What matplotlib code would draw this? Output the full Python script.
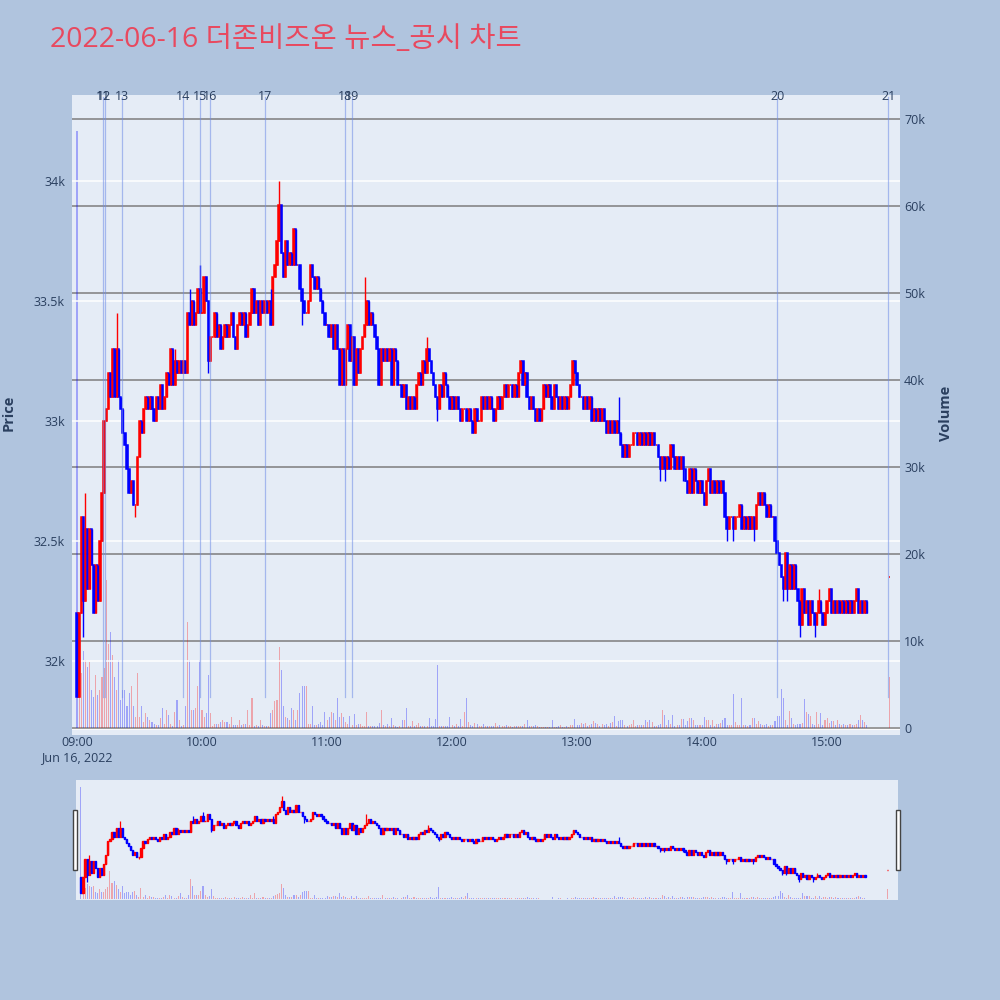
import numpy as np
import matplotlib.pyplot as plt
from matplotlib.patches import Rectangle
from matplotlib.ticker import FuncFormatter

plt.rcParams['font.family'] = ['Open Sans', 'Noto Sans CJK KR', 'DejaVu Sans']

title = '2022-06-16 더존비즈온 뉴스_공시 차트'

# 1-minute closes from 09:00 (index 0) to 15:19, open of each bar = previous close
first_open = 32200
closes = [
    31850, 32200, 32600, 32250, 32550, 32300, 32550, 32400, 32200, 32400,
    32250, 32500, 32700, 33000, 33050, 33200, 33100, 33300, 33100, 33300,
    33100, 33050, 32950, 32900, 32800, 32700, 32750, 32650, 32650, 32850,
    33000, 32950, 33050, 33100, 33050, 33100, 33050, 33000, 33100, 33050,
    33150, 33050, 33100, 33200, 33150, 33300, 33150, 33250, 33200, 33250,
    33200, 33250, 33200, 33450, 33400, 33500, 33400, 33450, 33550, 33450,
    33450, 33600, 33500, 33250, 33350, 33350, 33450, 33350, 33400, 33300,
    33350, 33400, 33350, 33400, 33450, 33350, 33300, 33400, 33450, 33400,
    33450, 33350, 33400, 33450, 33550, 33450, 33500, 33400, 33500, 33450,
    33500, 33450, 33500, 33400, 33600, 33650, 33750, 33900, 33700, 33600,
    33750, 33650, 33700, 33650, 33800, 33650, 33650, 33550, 33500, 33450,
    33450, 33500, 33650, 33600, 33550, 33600, 33550, 33500, 33450, 33400,
    33400, 33350, 33400, 33300, 33400, 33300, 33150, 33300, 33150, 33300,
    33400, 33250, 33350, 33150, 33300, 33200, 33300, 33350, 33400, 33500,
    33400, 33450, 33400, 33350, 33300, 33150, 33300, 33250, 33300, 33250,
    33300, 33150, 33300, 33250, 33150, 33150, 33100, 33150, 33050, 33100,
    33050, 33100, 33050, 33150, 33200, 33150, 33250, 33200, 33300, 33250,
    33200, 33150, 33100, 33050, 33150, 33100, 33200, 33150, 33100, 33050,
    33100, 33050, 33100, 33050, 33000, 33050, 33050, 33000, 33050, 33000,
    32950, 33050, 33000, 33000, 33100, 33050, 33100, 33050, 33100, 33050,
    33000, 33050, 33100, 33050, 33100, 33150, 33100, 33150, 33150, 33100,
    33150, 33100, 33200, 33250, 33150, 33200, 33100, 33050, 33100, 33050,
    33000, 33050, 33000, 33050, 33150, 33100, 33150, 33100, 33050, 33150,
    33100, 33050, 33100, 33050, 33100, 33050, 33100, 33150, 33250, 33200,
    33150, 33100, 33100, 33050, 33100, 33050, 33100, 33000, 33050, 33000,
    33050, 33000, 33050, 33000, 32950, 33000, 32950, 33000, 32950, 33000,
    32950, 32900, 32850, 32900, 32850, 32900, 32900, 32950, 32950, 32900,
    32950, 32900, 32950, 32900, 32950, 32900, 32950, 32900, 32900, 32850,
    32800, 32850, 32800, 32850, 32800, 32900, 32850, 32800, 32850, 32800,
    32850, 32800, 32750, 32700, 32800, 32700, 32800, 32750, 32700, 32750,
    32700, 32650, 32750, 32800, 32700, 32750, 32700, 32750, 32700, 32750,
    32700, 32600, 32550, 32600, 32600, 32550, 32600, 32600, 32650, 32550,
    32600, 32550, 32600, 32550, 32600, 32550, 32650, 32700, 32650, 32700,
    32650, 32600, 32650, 32600, 32600, 32500, 32450, 32400, 32350, 32300,
    32450, 32300, 32400, 32300, 32400, 32300, 32250, 32150, 32300, 32200,
    32250, 32150, 32250, 32200, 32150, 32200, 32250, 32200, 32150, 32200,
    32250, 32300, 32200, 32250, 32200, 32250, 32200, 32250, 32200, 32250,
    32200, 32250, 32200, 32250, 32300, 32200, 32250, 32200, 32250, 32200,
]
# volume per minute, thousands of shares
volumes = [
    68.6, 9.0, 6.3, 8.8, 7.8, 7.0, 7.6, 4.4, 3.6, 6.1,
    3.8, 4.4, 5.9, 6.9, 17.0, 9.7, 11.0, 8.4, 5.9, 4.4,
    7.8, 3.2, 4.4, 4.4, 2.5, 4.0, 4.8, 2.5, 1.3, 6.3,
    1.3, 2.5, 0.7, 1.7, 1.3, 0.9, 0.7, 0.5, 0.4, 0.4,
    1.1, 2.3, 0.5, 2.1, 1.5, 0.5, 0.2, 1.9, 3.2, 0.9,
    0.2, 0.4, 2.5, 12.2, 7.8, 2.1, 2.1, 2.3, 4.8, 7.8,
    2.1, 1.3, 1.7, 6.1, 1.7, 0.2, 0.5, 0.5, 0.5, 0.7,
    0.9, 0.7, 0.7, 0.5, 1.3, 0.4, 0.4, 0.4, 0.9, 0.4,
    0.5, 0.5, 2.1, 0.4, 3.5, 0.2, 0.4, 0.2, 0.9, 0.4,
    0.2, 0.2, 0.2, 1.7, 2.1, 3.1, 3.2, 9.3, 6.7, 2.5,
    1.3, 1.1, 0.9, 2.3, 2.1, 0.9, 2.1, 4.0, 4.8, 4.8,
    4.8, 0.5, 0.5, 2.5, 0.4, 0.4, 0.5, 0.7, 0.4, 1.8,
    0.9, 1.3, 1.9, 1.7, 0.9, 3.4, 1.3, 1.7, 1.3, 0.7,
    0.5, 1.4, 0.3, 1.6, 0.3, 0.5, 0.5, 0.2, 0.2, 1.8,
    0.2, 0.2, 0.2, 0.2, 0.2, 0.6, 2.1, 0.3, 0.2, 0.5,
    0.2, 1.2, 0.4, 0.2, 0.1, 0.2, 0.9, 0.9, 2.3, 0.2,
    0.2, 0.8, 0.2, 0.3, 0.6, 0.2, 0.2, 0.2, 0.2, 1.1,
    0.2, 0.2, 1.0, 7.2, 0.2, 0.2, 0.2, 0.2, 0.2, 1.3,
    0.3, 0.2, 0.5, 0.2, 1.0, 0.2, 1.8, 3.5, 0.7, 0.3,
    0.2, 0.6, 0.5, 0.2, 0.2, 0.5, 0.2, 0.2, 0.2, 0.2,
    0.2, 0.6, 0.2, 0.3, 0.2, 0.2, 0.3, 0.2, 0.2, 0.1,
    0.2, 0.2, 0.2, 0.2, 0.2, 0.5, 0.9, 0.2, 0.2, 0.2,
    0.4, 0.2, 0.1, 0.1, 0.1, 0.1, 0.1, 0.1, 0.9, 0.1,
    0.1, 0.2, 0.4, 0.1, 0.1, 0.2, 0.1, 0.3, 0.3, 1.0,
    0.3, 0.3, 0.6, 0.5, 0.6, 0.2, 0.3, 0.5, 0.8, 0.6,
    0.5, 0.2, 0.5, 0.3, 0.5, 0.2, 0.6, 0.7, 1.4, 0.2,
    0.8, 0.9, 0.9, 0.4, 0.2, 0.3, 0.5, 0.9, 0.2, 0.4,
    0.3, 0.3, 0.4, 0.9, 0.7, 0.9, 0.7, 0.2, 0.2, 0.4,
    0.5, 2.1, 1.5, 0.4, 0.9, 0.5, 1.5, 0.2, 0.3, 0.3,
    1.0, 1.0, 0.4, 0.8, 1.2, 1.1, 0.9, 0.3, 0.3, 0.3,
    0.3, 1.3, 0.9, 0.9, 0.3, 0.9, 0.2, 0.5, 0.5, 0.6,
    0.9, 1.2, 0.3, 0.3, 0.3, 3.9, 0.7, 0.4, 0.3, 3.5,
    0.3, 0.3, 0.2, 0.3, 1.2, 1.2, 0.5, 0.8, 0.5, 0.3,
    0.3, 0.5, 0.2, 0.3, 0.4, 0.8, 1.4, 1.4, 4.5, 3.5,
    0.9, 0.3, 2.0, 1.1, 0.5, 0.3, 0.5, 0.5, 0.6, 3.3,
    1.9, 1.6, 1.4, 0.5, 0.3, 1.9, 0.5, 1.7, 0.3, 0.9,
    1.2, 0.6, 0.8, 0.8, 0.3, 0.9, 0.5, 0.3, 0.5, 0.3,
    0.3, 0.5, 0.3, 0.3, 0.5, 0.9, 1.5, 0.9, 0.7, 0.3,
]
# closing auction print at 15:30
close_1530 = 32350
volume_1530 = 5.9

# wicks beyond the bodies (minute index: price)
wick_high = {4: 32700, 19: 33450, 47: 33300, 54: 33550, 59: 33650, 93: 33550,
             97: 34000, 138: 33600, 168: 33350, 213: 33250, 260: 33100, 356: 32300}
wick_low = {3: 32100, 28: 32600, 63: 33200, 108: 33400, 173: 33000, 280: 32750,
            282: 32750, 291: 32750, 312: 32500, 315: 32500, 325: 32500,
            339: 32250, 341: 32250, 347: 32100, 354: 32100}

news_labels = ['11', '12', '13', '14', '15', '16', '17', '18', '19', '20', '21']
news_times = ['09:12:36', '09:13:12', '09:21:48', '09:51:00', '09:59:00', '10:04:00',
              '10:30:12', '11:08:36', '11:11:54', '14:36:00', '15:29:18']

hour_ticks = ['09:00', '10:00', '11:00', '12:00', '13:00', '14:00', '15:00']


def to_min(t):
    h, m, s = (int(v) for v in t.split(':'))
    return (h - 9) * 60 + m + s / 60


x = np.append(np.arange(len(closes)), to_min('15:30:00'))
c = np.array(closes + [close_1530], dtype=float)
o = np.concatenate([[first_open], c[:-1]])
o[-1] = close_1530
hi = np.maximum(o, c)
lo = np.minimum(o, c)
for k, v in wick_high.items():
    hi[k] = max(hi[k], v)
for k, v in wick_low.items():
    lo[k] = min(lo[k], v)
vol = np.array(volumes + [volume_1530])
up = c >= o
col = np.where(up, '#ff0000', '#0000ff')
vcol = [(1, 0, 0, 0.3) if u else (0, 0, 1, 0.3) for u in up]

TXT = '#2a3f5f'
BG = '#e5ecf6'
xlim = (-2.4, 395)
plim = (31692, 34358)
vlim = (-0.8, 72.76)

fig = plt.figure(figsize=(10, 10), dpi=100, facecolor='#b0c4de')

# main chart: volume axes underneath, price axes on top
ax_v = fig.add_axes([0.072, 0.265, 0.828, 0.64])
ax_v.set_facecolor(BG)
ax_p = ax_v.twinx()
ax_p.patch.set_visible(False)

ax_v.bar(x, vol, width=0.5, color=vcol, linewidth=0)
ax_v.axhline(0, color='white', lw=2, zorder=0.5)
ax_v.set_ylim(*vlim)
ax_v.set_yticks(range(0, 71, 10))
ax_v.yaxis.set_major_formatter(FuncFormatter(lambda v, _: '0' if v == 0 else f'{int(v)}k'))
ax_v.yaxis.tick_right()
ax_v.grid(axis='y', color='#7d7d7d', lw=1.1)
ax_v.set_axisbelow(True)

ax_p.vlines(x, lo, hi, colors=col, lw=1.0)
ax_p.bar(x, c - o, bottom=o, width=0.6, color=col, edgecolor=col, linewidth=1.1)
ax_p.set_ylim(*plim)
ax_p.set_yticks([32000, 32500, 33000, 33500, 34000])
ax_p.yaxis.set_major_formatter(FuncFormatter(lambda v, _: f'{v / 1000:g}k'))
ax_p.yaxis.tick_left()
ax_p.grid(axis='y', color='white', lw=1.1)
ax_p.set_axisbelow(True)

for m_, lab in zip([to_min(t) for t in news_times], news_labels):
    ax_p.axvline(m_, ymin=0.059, ymax=0.997, color='#6f8ce6', alpha=0.55, lw=0.9)
    ax_p.text(m_, 0.997, lab, transform=ax_p.get_xaxis_transform(), ha='center',
              va='center', fontsize=9, color=TXT)

ticks = [to_min(t + ':00') for t in hour_ticks]
labels = list(hour_ticks)
labels[0] = '09:00\nJun 16, 2022'
ax_v.set_xticks(ticks)
ax_v.set_xticklabels(labels, linespacing=1.15)
ax_v.set_xlim(*xlim)
ax_p.set_xlim(*xlim)

for a in (ax_v, ax_p):
    for s in a.spines.values():
        s.set_visible(False)
    a.tick_params(length=0, labelsize=9, labelcolor=TXT, pad=5)
ax_v.tick_params(axis='y', pad=3)
ax_v.tick_params(axis='x', pad=1)

fig.text(0.05, 0.96, title, fontsize=20.5, color='#e8495f', ha='left', va='center')
fig.text(0.009, 0.587, 'Price', rotation=90, fontsize=10.5, fontweight='bold',
         color=TXT, ha='center', va='center')
fig.text(0.946, 0.587, 'Volume', rotation=90, fontsize=10.5, fontweight='bold',
         color=TXT, ha='center', va='center')

# range slider
ax_sv = fig.add_axes([0.076, 0.10, 0.822, 0.12])
ax_sv.set_facecolor(BG)
ax_sp = ax_sv.twinx()
ax_sp.patch.set_visible(False)
ax_sv.bar(x, vol, width=0.5, color=vcol, linewidth=0)
ax_sv.set_ylim(*vlim)
ax_sp.vlines(x, lo, hi, colors=col, lw=0.9)
ax_sp.bar(x, c - o, bottom=o, width=0.6, color=col, edgecolor=col, linewidth=1.0)
ax_sp.set_ylim(*plim)
for a in (ax_sv, ax_sp):
    a.set_xlim(*xlim)
    a.set_xticks([])
    a.set_yticks([])
    for s in a.spines.values():
        s.set_visible(False)

for hx in (0.0725, 0.8955):
    fig.patches.append(Rectangle((hx, 0.13), 0.004, 0.06, transform=fig.transFigure,
                                 facecolor='white', edgecolor='#444444', lw=1))

fig.savefig('out.png', dpi=100, facecolor=fig.get_facecolor())
